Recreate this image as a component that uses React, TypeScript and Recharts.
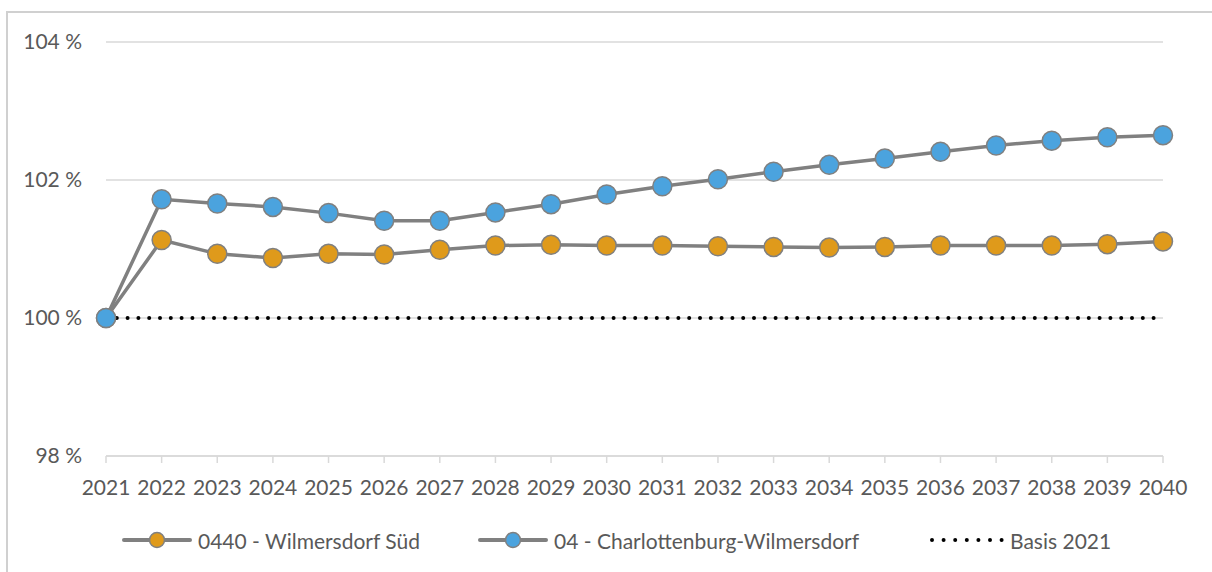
import React from 'react';
import { LineChart, Line, XAxis, YAxis, CartesianGrid, Legend } from 'recharts';

const years = ['2021','2022','2023','2024','2025','2026','2027','2028','2029','2030','2031','2032','2033','2034','2035','2036','2037','2038','2039','2040'];
const wilmersdorfSued = [100, 101.13, 100.93, 100.87, 100.93, 100.92, 100.99, 101.05, 101.06, 101.05, 101.05, 101.04, 101.03, 101.02, 101.03, 101.05, 101.05, 101.05, 101.07, 101.11];
const charlottenburgWilmersdorf = [100, 101.72, 101.66, 101.61, 101.52, 101.41, 101.41, 101.53, 101.65, 101.79, 101.91, 102.01, 102.12, 102.22, 102.31, 102.41, 102.50, 102.57, 102.62, 102.65];
const basis = [100, 100, 100, 100, 100, 100, 100, 100, 100, 100, 100, 100, 100, 100, 100, 100, 100, 100, 100, 100];
const yTicks = [98, 100, 102, 104];
const seriesNames = ['0440 - Wilmersdorf Süd', '04 - Charlottenburg-Wilmersdorf', 'Basis 2021'];

const data = years.map((y, i) => ({
  year: y,
  a: wilmersdorfSued[i],
  b: charlottenburgWilmersdorf[i],
  c: basis[i],
}));

const FONT = "Lato, 'Open Sans', sans-serif";
const TEXT = '#595959';
const GRID = '#d9d9d9';
const ORANGE = '#df9a1b';
const BLUE = '#4ba3de';
const LINEGRAY = '#808080';

const keyOrder = ['a', 'b', 'c'];
const itemWidths = [356, 447, 200];

const renderLegend = (props: any) => {
  const payload = [...(props.payload || [])].sort(
    (p: any, q: any) => keyOrder.indexOf(p.dataKey) - keyOrder.indexOf(q.dataKey)
  );
  return (
    <div style={{ display: 'flex', alignItems: 'center', paddingLeft: 122, fontFamily: FONT, fontSize: 21, color: TEXT, height: 30 }}>
      {payload.map((p: any, i: number) => {
        const isDots = p.dataKey === 'c';
        return (
          <div key={i} style={{ width: itemWidths[i], display: 'flex', alignItems: 'center', flex: 'none' }}>
            <svg width={isDots ? 79 : 70} height={22} style={{ flex: 'none' }}>
              {isDots ? (
                <line x1={7} y1={11} x2={77} y2={11} stroke="#000" strokeWidth={4} strokeLinecap="round" strokeDasharray="0 11.6" />
              ) : (
                <g>
                  <line x1={2} y1={11} x2={68} y2={11} stroke={LINEGRAY} strokeWidth={4} strokeLinecap="round" />
                  <circle cx={35} cy={11} r={7.5} fill={p.dataKey === 'a' ? ORANGE : BLUE} stroke={LINEGRAY} strokeWidth={1.5} />
                </g>
              )}
            </svg>
            <span style={{ marginLeft: 6, whiteSpace: 'nowrap' }}>{p.value}</span>
          </div>
        );
      })}
    </div>
  );
};

export default function App() {
  return (
    <div style={{ position: 'fixed', left: 0, top: 0, width: 1212, height: 572, overflow: 'hidden', background: '#fff' }}>
      <div style={{ position: 'absolute', left: 0, top: 0 }}>
        <LineChart width={1212} height={572} data={data} margin={{ top: 42, right: 49, left: 0, bottom: 17 }}>
          <CartesianGrid horizontal={true} vertical={false} stroke={GRID} strokeWidth={1.5} />
          <XAxis
            dataKey="year"
            height={69}
            axisLine={{ stroke: GRID, strokeWidth: 1.5 }}
            tickLine={{ stroke: GRID, strokeWidth: 1.5 }}
            tickSize={7}
            tickMargin={17}
            interval={0}
            tick={{ fill: TEXT, fontSize: 21, fontFamily: FONT }}
          />
          <YAxis
            width={106}
            domain={[98, 104]}
            ticks={yTicks}
            axisLine={false}
            tickLine={false}
            tickSize={0}
            tickMargin={24}
            tickFormatter={(v: number) => `${v} %`}
            tick={{ fill: TEXT, fontSize: 21, fontFamily: FONT }}
          />
          <Legend verticalAlign="bottom" content={renderLegend} wrapperStyle={{ left: 0, width: 1212 }} />
          <Line
            dataKey="a"
            name={seriesNames[0]}
            stroke={LINEGRAY}
            strokeWidth={3.5}
            isAnimationActive={false}
            dot={{ r: 9.5, fill: ORANGE, stroke: LINEGRAY, strokeWidth: 1.5 }}
            activeDot={false}
          />
          <Line
            dataKey="b"
            name={seriesNames[1]}
            stroke={LINEGRAY}
            strokeWidth={3.5}
            isAnimationActive={false}
            dot={{ r: 9.5, fill: BLUE, stroke: LINEGRAY, strokeWidth: 1.5 }}
            activeDot={false}
          />
          <Line
            dataKey="c"
            name={seriesNames[2]}
            stroke="#000"
            strokeWidth={4}
            strokeLinecap="round"
            strokeDasharray="0 10.8"
            isAnimationActive={false}
            dot={false}
            activeDot={false}
          />
        </LineChart>
      </div>
      <svg width={1212} height={572} style={{ position: 'absolute', left: 0, top: 0, pointerEvents: 'none' }}>
        <polyline points="7,572 7,12 1212,12" fill="none" stroke="#d0d0d0" strokeWidth={2} />
      </svg>
    </div>
  );
}
